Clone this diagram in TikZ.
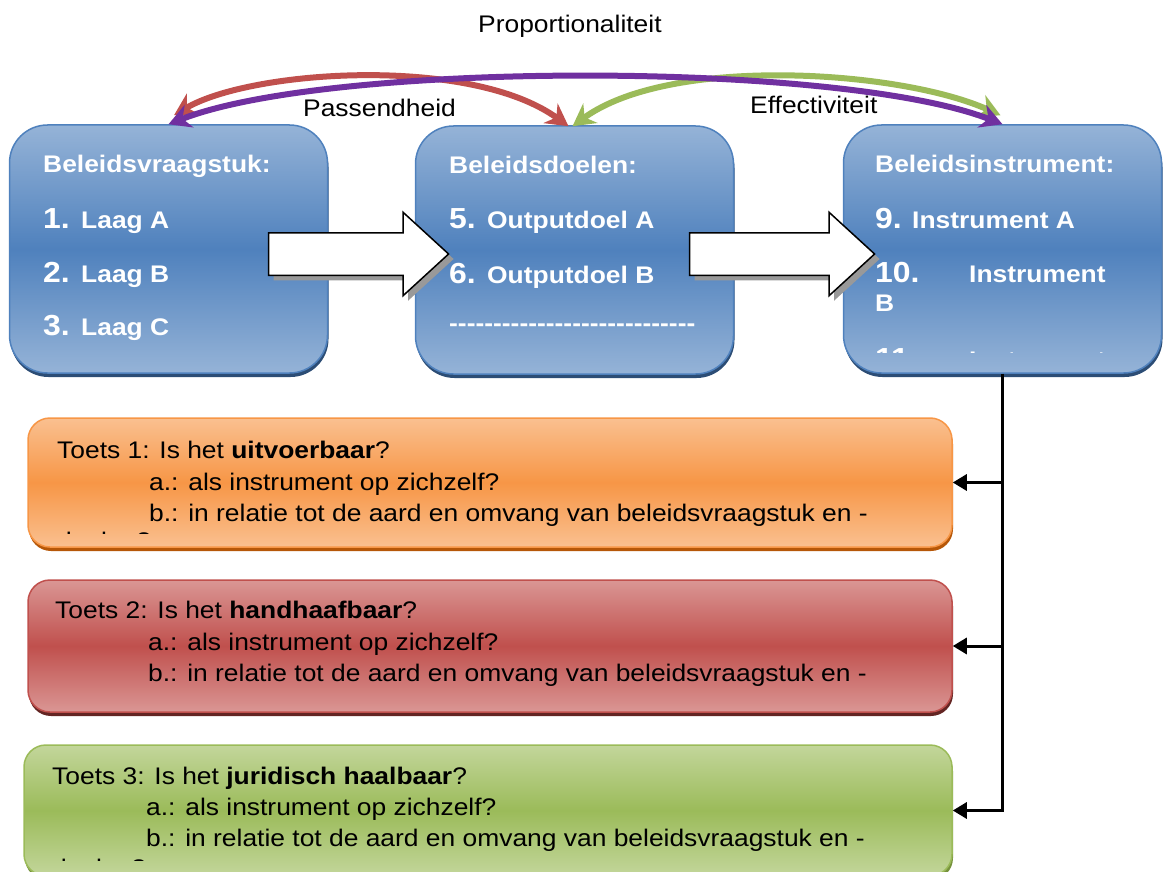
\documentclass[tikz,border=0pt]{standalone}
\usepackage{fontspec}
\setmainfont{Liberation Sans}[FakeStretch=1.1]
\usetikzlibrary{arrows.meta,shapes.arrows,shadows}

\definecolor{blauw}{HTML}{4F81BD}
\definecolor{blauwlicht}{HTML}{95B3D7}
\definecolor{blauwdonker}{HTML}{2C4D75}
\definecolor{oranje}{HTML}{F79646}
\definecolor{oranjelicht}{HTML}{FAC090}
\definecolor{oranjedonker}{HTML}{B65708}
\definecolor{rood}{HTML}{C0504D}
\definecolor{roodlicht}{HTML}{DA9694}
\definecolor{rooddonker}{HTML}{632523}
\definecolor{groen}{HTML}{9BBB59}
\definecolor{groenlicht}{HTML}{C3D69B}
\definecolor{groendonker}{HTML}{76923C}
\definecolor{paars}{HTML}{7030A0}

\newcommand{\tekst}{\fontsize{24}{28}\selectfont}
\newcommand{\nummer}{\fontsize{29}{33}\selectfont\bfseries}

\tikzset{
  beleidsbox/.style={rounded corners=38pt, draw=blauw, line width=1.5pt,
    top color=blauwlicht, bottom color=blauwlicht, middle color=blauw,
    minimum width=318pt, minimum height=248pt, inner sep=0pt,
    general shadow={fill=blauwdonker, shadow xshift=1pt, shadow yshift=-4pt}},
  toetsbox/.style={rounded corners=22pt, line width=1.5pt, inner sep=0pt,
    minimum width=924pt},
  oranjebox/.style={toetsbox, draw=oranje, top color=oranjelicht,
    bottom color=oranjelicht, middle color=oranje,
    general shadow={fill=oranjedonker, shadow xshift=1pt, shadow yshift=-4pt}},
  roodbox/.style={toetsbox, draw=rood, top color=roodlicht,
    bottom color=roodlicht, middle color=rood,
    general shadow={fill=rooddonker, shadow xshift=1pt, shadow yshift=-4pt}},
  groenbox/.style={toetsbox, draw=groen, top color=groenlicht,
    bottom color=groenlicht, middle color=groen,
    general shadow={fill=groendonker, shadow xshift=1pt, shadow yshift=-4pt}},
  blokpijl/.style={single arrow, draw=black, fill=white, line width=1.5pt,
    inner xsep=0pt, inner ysep=20.5pt, single arrow head extend=20.5pt,
    single arrow tip angle=85,
    general shadow={fill=black!40, shadow xshift=5pt, shadow yshift=-5pt}},
  boogpijl/.style={line width=6pt,
    {Stealth[length=22pt,width=24pt,inset=7pt]}-{Stealth[length=22pt,width=24pt,inset=7pt]}},
  toevoer/.style={line width=3pt, -{Triangle[length=14pt,width=16pt]}},
  kop/.style={anchor=base west, inner sep=0pt, text=white, font=\tekst\bfseries},
  num/.style={anchor=base west, inner sep=0pt, text=white, font=\nummer},
  regel/.style={anchor=base west, inner sep=0pt, font=\tekst}
}

\begin{document}
\begin{tikzpicture}[x=1pt, y=-1pt]
    \useasboundingbox (0,0) rectangle (1165,872);
    \clip (0,0) rectangle (1165,872);

    \node[beleidsbox] (vraagstuk) at (168.5,249) {};
    \node[beleidsbox] (doelen) at (574.5,250) {};
    \node[beleidsbox] (instrument) at (1002.5,249) {};

    \node[oranjebox, minimum height=129pt] (toets1) at (490,482.5) {};
    \node[roodbox, minimum height=132pt] (toets2) at (490,646) {};
    \node[groenbox, minimum height=131pt, minimum width=928pt] (toets3) at (488,810.5) {};

    \node[blokpijl, minimum height=180pt] (pijl1) at (347,254) {};
    \node[blokpijl, minimum height=185pt] (pijl2) at (770.5,254) {};

    \draw[boogpijl, rood] ([xshift=5.5pt,yshift=9pt]vraagstuk.north)
      .. controls (250,70) and (470,55) .. ([xshift=-6pt,yshift=-1pt]doelen.north);
    \draw[boogpijl, groen] ([xshift=-2pt,yshift=-1pt]doelen.north)
      .. controls (670,55) and (900,70) .. ([xshift=-2pt,yshift=9pt]instrument.north);
    \draw[boogpijl, paars] (vraagstuk.north)
      .. controls (330,61) and (840,61) .. (instrument.north);

    \node[regel] (proportionaliteit) at (478,33) {Proportionaliteit};
    \node[regel] (passendheid) at (303,117) {Passendheid};
    \node[regel] (effectiviteit) at (750,114) {Effectiviteit};

    \node[kop] (kop1) at (43,173) {Beleidsvraagstuk:};
    \node[num] (n1) at (43,228) {1.};
    \node[kop] (laag1) at (81,228) {Laag A};
    \node[num] (n2) at (43,282) {2.};
    \node[kop] (laag2) at (81,282) {Laag B};
    \node[num] (n3) at (43,335) {3.};
    \node[kop] (laag3) at (81,335) {Laag C};

    \node[kop] (kop2) at (449,174) {Beleidsdoelen:};
    \node[num] (n5) at (449,228) {5.};
    \node[kop] (doel5) at (487,228) {Outputdoel A};
    \node[num] (n6) at (449,283) {6.};
    \node[kop] (doel6) at (487,283) {Outputdoel B};
    \node[kop] (streep) at (449,331) {-{}-{}-{}-{}-{}-{}-{}-{}-{}-{}-{}-{}-{}-{}-{}-{}-{}-{}-{}-{}-{}-{}-{}-{}-{}-{}-{}-};

    \node[kop] (kop3) at (875,173) {Beleidsinstrument:};
    \node[num] (n9) at (875,228) {9.};
    \node[kop] (instr9) at (912,228) {Instrument A};
    \node[num] (n10) at (875,282) {10.};
    \node[kop] (instr10) at (969,282) {Instrument};
    \node[kop] (instr10b) at (875,311) {B};
    \begin{scope}
      \clip (843,125) rectangle (1162,352);
      \node[num] (n11) at (875,368) {11.};
      \node[kop] (instr11) at (969,368) {Instrument};
    \end{scope}

    \node[regel] (t1) at (57,458) {Toets 1: Is het \textbf{uitvoerbaar}?};
    \node[regel] (t1a) at (149,490) {a.: als instrument op zichzelf?};
    \node[regel] (t1b) at (149,521) {b.: in relatie tot de aard en omvang van beleidsvraagstuk en -};
    \begin{scope}
      \clip (28,418) rectangle (952,533);
      \node[regel] (t1c) at (57,549) {doelen?};
    \end{scope}

    \node[regel] (t2) at (55,618) {Toets 2: Is het \textbf{handhaafbaar}?};
    \node[regel] (t2a) at (148,650) {a.: als instrument op zichzelf?};
    \node[regel] (t2b) at (148,681) {b.: in relatie tot de aard en omvang van beleidsvraagstuk en -};

    \node[regel] (t3) at (52,784) {Toets 3: Is het \textbf{juridisch haalbaar}?};
    \node[regel] (t3a) at (146,815) {a.: als instrument op zichzelf?};
    \node[regel] (t3b) at (146,846) {b.: in relatie tot de aard en omvang van beleidsvraagstuk en -};
    \begin{scope}
      \clip (24,745) rectangle (952,860);
      \node[regel] (t3c) at (52,876) {doelen?};
    \end{scope}

    \draw[toevoer] (instrument.south) |- (toets1.east);
    \draw[toevoer] (instrument.south) |- (toets2.east);
    \draw[toevoer] (instrument.south) |- (toets3.east);
\end{tikzpicture}
\end{document}
